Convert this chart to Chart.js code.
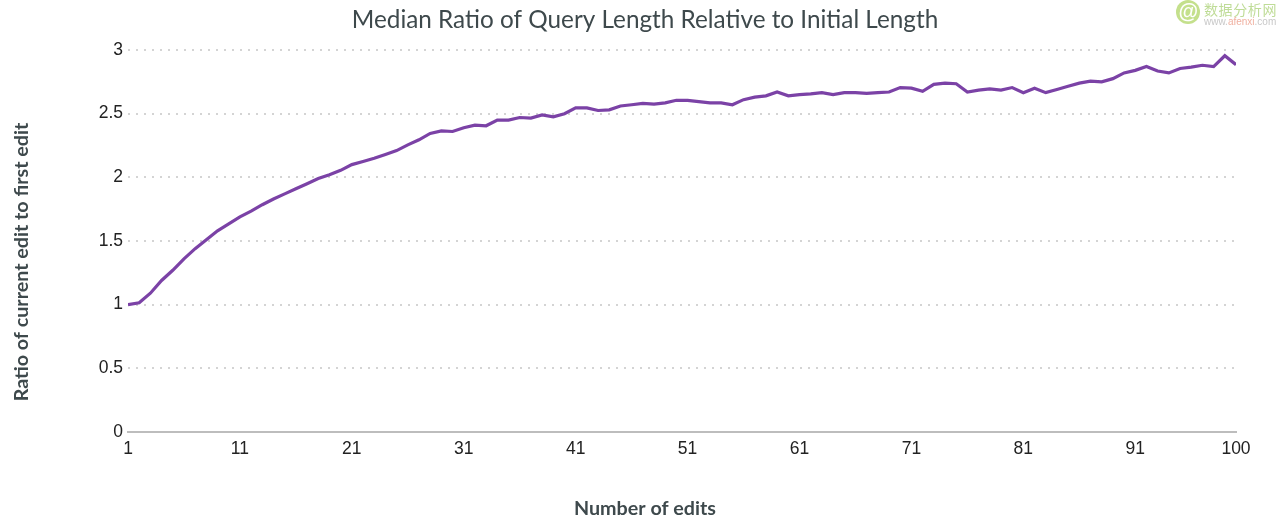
<!DOCTYPE html>
<html>
<head>
<meta charset="utf-8">
<title>Median Ratio of Query Length</title>
<script src="https://cdn.jsdelivr.net/npm/chart.js@4"></script>
<style>
html, body { margin: 0; padding: 0; background: #fff; }
#wrap { position: relative; width: 1280px; height: 532px; overflow: hidden; }
#logo { position: absolute; left: 1176px; top: 0; width: 24px; height: 24px; border-radius: 50%; background: #c4e08c; color: #fff; font: italic bold 20px/22px "Liberation Sans"; text-align: center; }
#mark1 { position: absolute; left: 1204px; top: 1px; font: 14px/16px "Noto Sans CJK SC"; color: #bfdc97; letter-spacing: 0.6px; white-space: nowrap; }
#mark2 { position: absolute; left: 1204px; top: 16px; font: 10px/12px "Liberation Sans"; color: #c8c8c8; white-space: nowrap; }
#mark2 b { font-weight: normal; color: #f0b0a0; }
</style>
</head>
<body>
<div id="wrap">
  <canvas id="chart" width="1280" height="532"></canvas>
  <div id="logo">@</div>
  <div id="mark1">数据分析网</div>
  <div id="mark2">www.<b>afenxi</b>.com</div>
</div>
<script>
// Median ratio for edits 1..100
const ratios = [
  1.0, 1.015, 1.09, 1.19, 1.27, 1.36, 1.44, 1.51, 1.58, 1.635,
  1.69, 1.735, 1.785, 1.83, 1.87, 1.91, 1.95, 1.99, 2.02, 2.055,
  2.1, 2.125, 2.15, 2.18, 2.21, 2.255, 2.295, 2.345, 2.365, 2.36,
  2.39, 2.41, 2.405, 2.45, 2.45, 2.47, 2.465, 2.49, 2.475, 2.5,
  2.545, 2.545, 2.525, 2.53, 2.56, 2.57, 2.58, 2.575, 2.585, 2.605,
  2.605, 2.595, 2.585, 2.585, 2.57, 2.61, 2.63, 2.64, 2.67, 2.64,
  2.65, 2.655, 2.665, 2.65, 2.665, 2.665, 2.66, 2.665, 2.67, 2.705,
  2.7, 2.675, 2.73, 2.74, 2.735, 2.67, 2.685, 2.695, 2.685, 2.705,
  2.665, 2.7, 2.665, 2.69, 2.715, 2.74, 2.755, 2.75, 2.775, 2.82,
  2.84, 2.87, 2.835, 2.82, 2.855, 2.865, 2.88, 2.87, 2.955, 2.885
];
const points = ratios.map((v, i) => ({ x: i + 1, y: v }));
const xTicks = [1, 11, 21, 31, 41, 51, 61, 71, 81, 91, 100];

// The titles sit off the plot's centre in the original, so they are placed by hand
const headings = {
    id: 'headings',
    afterDraw(chart) {
        const c = chart.ctx;
        c.save();
        c.fillStyle = '#3e494c';
        c.textAlign = 'center';
        c.textBaseline = 'middle';
        c.font = '24.3px Lato';
        c.fillText('Median Ratio of Query Length Relative to Initial Length', 645, 20);
        c.font = 'bold 19.7px Lato';
        c.fillText('Number of edits', 645, 509);
        c.translate(22, 262);
        c.rotate(-Math.PI / 2);
        c.fillText('Ratio of current edit to first edit', 0, 0);
        c.restore();
    }
};

const ctx = document.getElementById('chart').getContext('2d');

const chart = new Chart(ctx, {
    type: 'line',
    data: {
        datasets: [{
            label: 'Median ratio',
            data: points,
            borderColor: '#7b42a6',
            borderWidth: 3.2,
            pointRadius: 0,
            tension: 0
        }]
    },
    plugins: [headings],
    options: {
        responsive: false,
        animation: false,
        layout: { padding: { top: 50, right: 44 } },
        plugins: {
            legend: { display: false },
            tooltip: { enabled: false }
        },
        scales: {
            x: {
                type: 'linear',
                min: 1,
                max: 100,
                afterBuildTicks: scale => { scale.ticks = xTicks.map(v => ({ value: v })); },
                afterFit: scale => { scale.height = 100; },
                grid: { display: false, drawTicks: false },
                border: { display: true, color: '#bdbdbd', width: 2 },
                ticks: {
                    color: '#222',
                    autoSkip: false,
                    maxRotation: 0,
                    padding: 7,
                    font: { family: 'Liberation Sans', size: 17.5 },
                    callback: v => String(v)
                }
            },
            y: {
                min: 0,
                max: 3,
                afterFit: scale => { scale.width = 128; },
                grid: { color: '#d4d4d4', lineWidth: 2, drawTicks: false },
                border: { display: false, dash: [2, 6] },
                ticks: {
                    stepSize: 0.5,
                    color: '#222',
                    padding: 5,
                    font: { family: 'Liberation Sans', size: 17.5 },
                    callback: v => String(v)
                }
            }
        }
    }
});
</script>
</body>
</html>
